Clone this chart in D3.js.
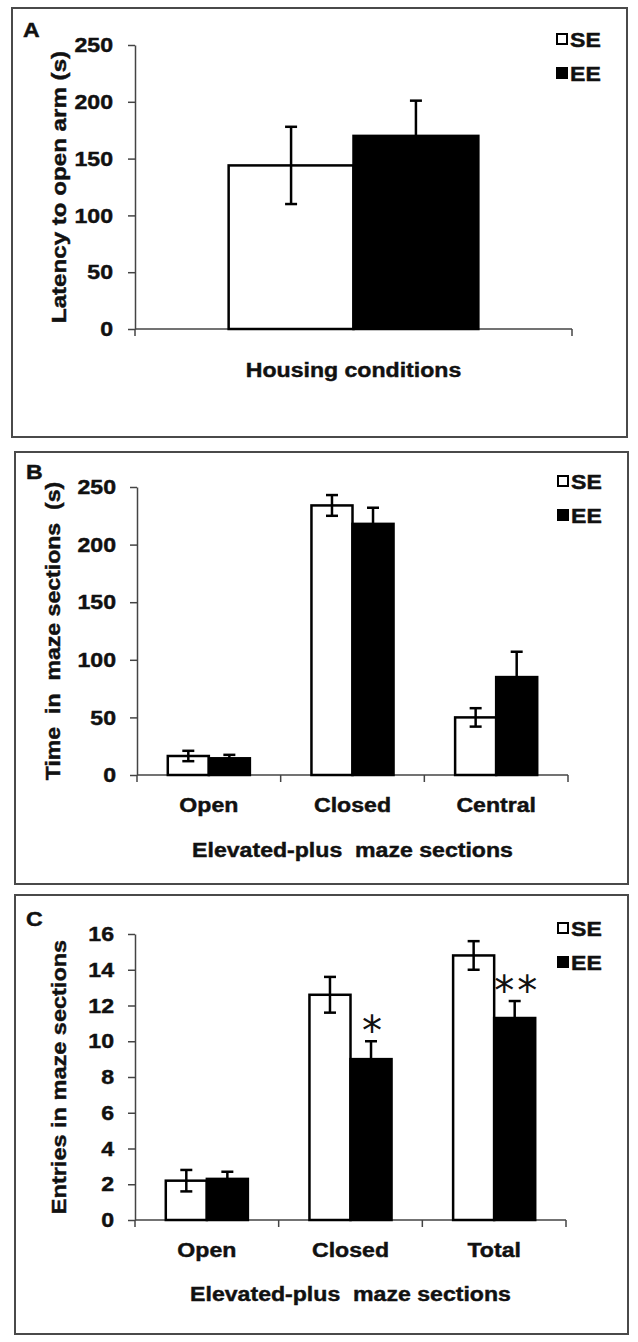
<!DOCTYPE html>
<html><head><meta charset="utf-8">
<script src="https://cdn.jsdelivr.net/npm/d3@7"></script>
<style>body{margin:0;background:#fff} svg text{font-family:"Liberation Sans",Arial,sans-serif}</style>
</head><body><svg id="c" width="638" height="1342"></svg>
<script>
// ---------- data ----------
const groups = ["SE", "EE"];

const latencyCats = [""];
const latencySE = [144], latencySEErr = [34];
const latencyEE = [170], latencyEEErr = [31];
const latencySig = [""];
const latencyTicks = [0, 50, 100, 150, 200, 250];

const timeCats = ["Open", "Closed", "Central"];
const timeSE = [16.5, 234, 50], timeSEErr = [4.5, 9, 8];
const timeEE = [14.5, 218, 85], timeEEErr = [3, 14, 22];
const timeSig = ["", "", ""];
const timeTicks = [0, 50, 100, 150, 200, 250];

const entryCats = ["Open", "Closed", "Total"];
const entrySE = [2.2, 12.6, 14.8], entrySEErr = [0.6, 1.0, 0.8];
const entryEE = [2.3, 9.0, 11.3], entryEEErr = [0.4, 1.0, 0.95];
const entrySig = ["", "*", "**"];
const entryTicks = [0, 2, 4, 6, 8, 10, 12, 14, 16];

// ---------- drawing ----------
const svg = d3.select("#c");
svg.append("rect").attr("width", 638).attr("height", 1342).attr("fill", "#fff");
const SX = 1.1, FS = 21, INK = "#111", AX = "#444", TSW = 0.45;

function txt(g, x, y, s, o = {}) {
  const t = g.append("text")
    .attr("transform", `translate(${x},${y})` + (o.rot ? " rotate(-90)" : "") + ` scale(${o.sx || SX},1)`)
    .attr("font-size", o.fs || FS).attr("font-weight", o.fw || "bold")
    .attr("text-anchor", o.anchor || "start").attr("fill", INK)
    .attr("stroke", INK).attr("stroke-width", TSW)
    .style("white-space", "pre")
    .text(s);
  if (o.dy) t.attr("dy", o.dy);
  return t;
}

function panel(cfg) {
  const g = svg.append("g");
  const [bx0, by0, bx1, by1] = cfg.box;
  g.append("rect").attr("x", bx0).attr("y", by0).attr("width", bx1 - bx0).attr("height", by1 - by0)
    .attr("fill", "none").attr("stroke", "#4a4a4a").attr("stroke-width", 2);

  const y = d3.scaleLinear().domain([0, d3.max(cfg.ticks)]).range([cfg.yBase, cfg.yTop]);
  const x = d3.scaleBand().domain(cfg.cats.map((c, i) => i)).range([cfg.x0, cfg.x1]);
  const xs = d3.scaleBand().domain(groups).range([0, x.bandwidth()]).paddingInner(0).paddingOuter(0.75);

  // y axis
  const ya = g.append("g").attr("transform", `translate(${cfg.x0},0)`)
    .call(d3.axisLeft(y).tickValues(cfg.ticks).tickSize(7).tickSizeOuter(0));
  ya.attr("font-size", null).attr("font-family", null);
  ya.select(".domain").attr("stroke", AX).attr("stroke-width", 1.5);
  ya.selectAll(".tick line").attr("stroke", AX).attr("stroke-width", 1.5);
  ya.selectAll(".tick text").attr("x", -cfg.labGap / SX).attr("transform", `scale(${SX},1)`)
    .attr("font-size", FS).attr("font-weight", "bold").attr("fill", INK)
    .attr("stroke", INK).attr("stroke-width", TSW);

  // x axis line + boundary ticks
  g.append("line").attr("x1", cfg.x0).attr("x2", cfg.x1).attr("y1", cfg.yBase).attr("y2", cfg.yBase)
    .attr("stroke", AX).attr("stroke-width", 1.5);
  const bounds = x.domain().map(d => x(d)).concat([cfg.x1]);
  g.selectAll("line.xt").data(bounds).join("line").attr("class", "xt")
    .attr("x1", d => d).attr("x2", d => d).attr("y1", cfg.yBase).attr("y2", cfg.yBase + 7)
    .attr("stroke", AX).attr("stroke-width", 1.5);
  const xa = g.append("g").attr("transform", `translate(0,${cfg.yBase})`)
    .call(d3.axisBottom(x).tickSize(0).tickPadding(22).tickFormat(i => cfg.cats[i]));
  xa.attr("font-size", null).attr("font-family", null);
  xa.select(".domain").remove();
  xa.selectAll(".tick text").attr("transform", `scale(${SX},1)`)
    .attr("font-size", FS).attr("font-weight", "bold").attr("fill", INK)
    .attr("stroke", INK).attr("stroke-width", TSW);

  // bars
  const rows = [];
  cfg.cats.forEach((c, i) => {
    rows.push({ i, grp: "SE", v: cfg.se[i], e: cfg.seErr[i] });
    rows.push({ i, grp: "EE", v: cfg.ee[i], e: cfg.eeErr[i] });
  });
  g.selectAll("rect.bar").data(rows).join("rect").attr("class", "bar")
    .attr("x", d => x(d.i) + xs(d.grp)).attr("width", xs.bandwidth())
    .attr("y", d => y(d.v)).attr("height", d => y(0) - y(d.v))
    .attr("fill", d => d.grp === "SE" ? "#fff" : "#000")
    .attr("stroke", "#000").attr("stroke-width", 2.5);

  // error bars
  const cx = d => x(d.i) + xs(d.grp) + xs.bandwidth() / 2;
  const eb = g.selectAll("g.eb").data(rows).join("g").attr("class", "eb")
    .attr("stroke", "#000").attr("stroke-width", 2.5);
  eb.append("line").attr("x1", cx).attr("x2", cx).attr("y1", d => y(d.v - d.e)).attr("y2", d => y(d.v + d.e));
  eb.append("line").attr("x1", d => cx(d) - 6).attr("x2", d => cx(d) + 6).attr("y1", d => y(d.v + d.e)).attr("y2", d => y(d.v + d.e));
  eb.append("line").attr("x1", d => cx(d) - 6).attr("x2", d => cx(d) + 6).attr("y1", d => y(d.v - d.e)).attr("y2", d => y(d.v - d.e));

  // significance
  cfg.sig.forEach((s, i) => {
    if (!s) return;
    const xx = x(i) + xs("EE") + xs.bandwidth() / 2;
    const ls = s.length > 1 ? 3 : 0;
    g.append("text").attr("x", xx + 1 + ls / 2).attr("y", y(cfg.ee[i] + cfg.eeErr[i]) + 4)
      .attr("text-anchor", "middle").attr("font-size", 40).attr("font-weight", "normal")
      .style("font-family", "'DejaVu Sans', sans-serif")
      .attr("letter-spacing", ls).attr("fill", INK).text(s);
  });

  // titles
  const midX = (cfg.x0 + cfg.x1) / 2;
  txt(g, midX, cfg.yBase + cfg.xTitleOff, cfg.xTitle, { anchor: "middle" });
  txt(g, cfg.yTitleX, (cfg.yBase + cfg.yTop) / 2, cfg.yTitle, { anchor: "middle", rot: true, dy: "0.27em", sx: cfg.yTitleSX });
  txt(g, bx0 + 11, cfg.yTop - 8, cfg.letter, {});

  // legend
  const lx = bx1 - 70;
  [["SE", "#fff", cfg.yTop - 6], ["EE", "#000", cfg.yTop + 28]].forEach(([k, f, ly]) => {
    g.append("rect").attr("x", lx).attr("y", ly - 5).attr("width", 10).attr("height", 10)
      .attr("fill", f).attr("stroke", "#000").attr("stroke-width", 2);
    txt(g, lx + 13, ly, k, { dy: "0.36em" });
  });
}

panel({ box: [12, 8, 627, 437], x0: 135, x1: 572, yBase: 329, yTop: 45, labGap: 22,
  cats: latencyCats, se: latencySE, seErr: latencySEErr, ee: latencyEE, eeErr: latencyEEErr, sig: latencySig,
  ticks: latencyTicks, letter: "A", xTitle: "Housing conditions", xTitleOff: 48,
  yTitle: "Latency to open arm (s)", yTitleX: 60, yTitleSX: 1.15 });

panel({ box: [15, 452, 628, 884], x0: 137, x1: 568, yBase: 775, yTop: 487, labGap: 21,
  cats: timeCats, se: timeSE, seErr: timeSEErr, ee: timeEE, eeErr: timeEEErr, sig: timeSig,
  ticks: timeTicks, letter: "B", xTitle: "Elevated-plus  maze sections", xTitleOff: 82,
  yTitle: "Time  in  maze sections  (s)", yTitleX: 54, yTitleSX: 1.1 });

panel({ box: [15, 895, 628, 1334], x0: 135, x1: 566, yBase: 1220, yTop: 934, labGap: 21,
  cats: entryCats, se: entrySE, seErr: entrySEErr, ee: entryEE, eeErr: entryEEErr, sig: entrySig,
  ticks: entryTicks, letter: "C", xTitle: "Elevated-plus  maze sections", xTitleOff: 81,
  yTitle: "Entries in maze sections", yTitleX: 60, yTitleSX: 1.12 });
</script>
</body></html>
